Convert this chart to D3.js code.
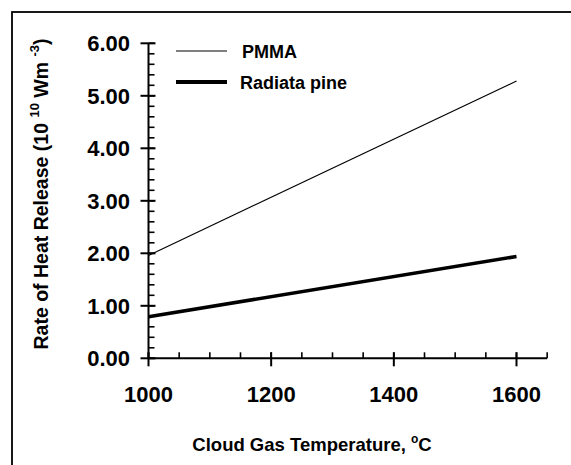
<!DOCTYPE html>
<html><head><meta charset="utf-8">
<script src="https://cdn.jsdelivr.net/npm/d3@7"></script>
<style>body{margin:0;background:#fff}svg{display:block}text{font-family:"Liberation Sans",Arial,sans-serif;font-weight:bold;fill:#000}</style>
</head><body><svg id="c" width="571" height="465"></svg>
<script>
const seriesNames = ["PMMA", "Radiata pine"];
const temperatures = [1000, 1600];
const pmmaValues = [1.96, 5.28];
const radiataValues = [0.79, 1.94];
const yTicks = [0, 1, 2, 3, 4, 5, 6];
const xTicks = [1000, 1200, 1400, 1600];

const svg = d3.select("#c");
const x = d3.scaleLinear().domain([1000, 1600]).range([148.5, 516.5]);
const y = d3.scaleLinear().domain([0, 6]).range([358.3, 43.3]);

// frame
svg.append("rect").attr("x", 12).attr("y", 12).attr("width", 620).attr("height", 520)
  .attr("fill", "none").attr("stroke", "#000").attr("stroke-width", 1.8);

// y axis
svg.append("line").attr("x1", x(1000)).attr("x2", x(1000)).attr("y1", y(0)).attr("y2", y(6))
  .attr("stroke", "#000").attr("stroke-width", 2);
const yMinor = d3.range(0, 6.001, 0.2);
svg.selectAll(".ymin").data(yMinor).join("line")
  .attr("x1", x(1000)).attr("x2", x(1000) + 6).attr("y1", d => y(d)).attr("y2", d => y(d))
  .attr("stroke", "#000").attr("stroke-width", 1.6);
svg.selectAll(".ymaj").data(yTicks).join("line")
  .attr("x1", x(1000) - 8).attr("x2", x(1000) + 7).attr("y1", d => y(d)).attr("y2", d => y(d))
  .attr("stroke", "#000").attr("stroke-width", 2);
svg.selectAll(".ylab").data(yTicks).join("text")
  .attr("x", 130).attr("y", d => y(d) + 7.8).attr("text-anchor", "end")
  .style("font-size", "22px").text(d => d.toFixed(2));

// x axis
const xEnd = 1650;
svg.append("line").attr("x1", x(1000)).attr("x2", x(xEnd) ).attr("y1", y(0)).attr("y2", y(0))
  .attr("stroke", "#000").attr("stroke-width", 2);
const xMinor = d3.range(1000, 1651, 50);
svg.selectAll(".xmin").data(xMinor).join("line")
  .attr("x1", d => x(d)).attr("x2", d => x(d)).attr("y1", y(0)).attr("y2", y(0) - 6)
  .attr("stroke", "#000").attr("stroke-width", 1.6);
svg.selectAll(".xmaj").data(xTicks).join("line")
  .attr("x1", d => x(d)).attr("x2", d => x(d)).attr("y1", y(0) - 6).attr("y2", y(0) + 8)
  .attr("stroke", "#000").attr("stroke-width", 2);
svg.selectAll(".xlab").data(xTicks).join("text")
  .attr("x", d => x(d)).attr("y", 401.5).attr("text-anchor", "middle")
  .style("font-size", "22px").text(d => d);

// lines
const line = d3.line().x(d => x(d[0])).y(d => y(d[1]));
svg.append("path").attr("d", line(temperatures.map((t, i) => [t, pmmaValues[i]])))
  .attr("fill", "none").attr("stroke", "#000").attr("stroke-width", 1.1);
svg.append("path").attr("d", line(temperatures.map((t, i) => [t, radiataValues[i]])))
  .attr("fill", "none").attr("stroke", "#000").attr("stroke-width", 3.6);

// legend
const legY = [51, 82];
const legW = [1.1, 4];
seriesNames.forEach((n, i) => {
  svg.append("line").attr("x1", 176).attr("x2", 227).attr("y1", legY[i]).attr("y2", legY[i])
    .attr("stroke", "#000").attr("stroke-width", legW[i]);
  svg.append("text").attr("x", i === 0 ? 242 : 240).attr("y", legY[i] + 7)
    .style("font-size", "18px").text(n);
});

// x title
const xt = svg.append("text").attr("x", 312).attr("y", 451).attr("text-anchor", "middle").style("font-size", "18.5px");
xt.append("tspan").text("Cloud Gas Temperature, ");
xt.append("tspan").attr("dy", -8).style("font-size", "12px").text("o");
xt.append("tspan").attr("dy", 8).text("C");

// y title
const yt = svg.append("text").attr("transform", "translate(48,194) rotate(-90)")
  .attr("text-anchor", "middle").style("font-size", "19.5px");
yt.append("tspan").text("Rate of Heat Release (10 ");
yt.append("tspan").attr("dy", -9).style("font-size", "13px").text("10");
yt.append("tspan").attr("dy", 9).text(" Wm ");
yt.append("tspan").attr("dy", -9).style("font-size", "13px").text("-3");
yt.append("tspan").attr("dy", 9).text(")");
</script></body></html>
